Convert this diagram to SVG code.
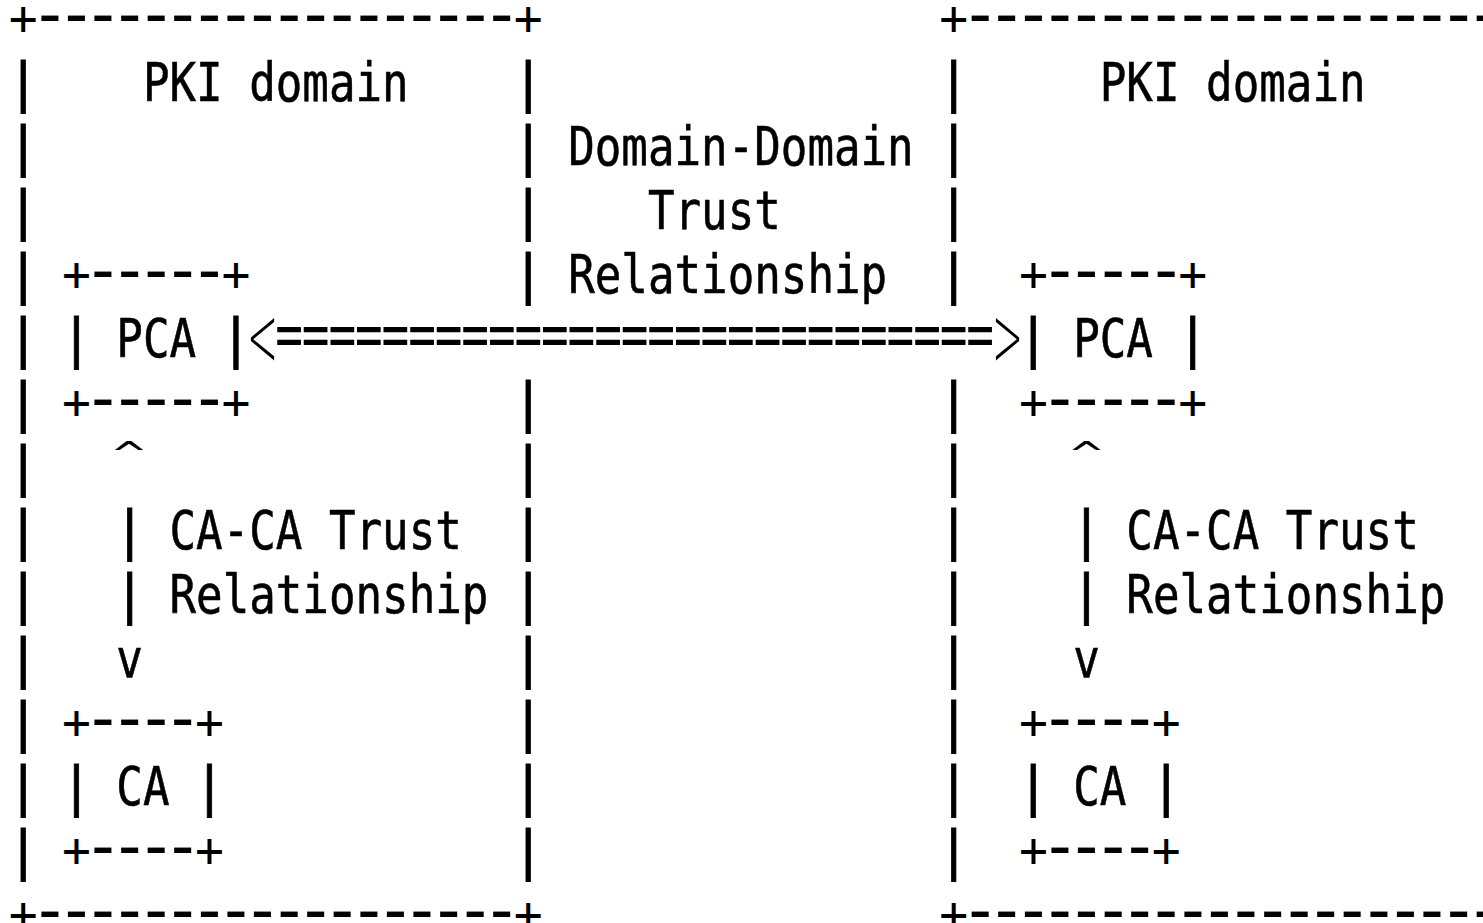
<svg xmlns="http://www.w3.org/2000/svg" width="1483" height="923" viewBox="0 0 1483 923">
<style>
text { font-family: "DejaVu Sans Mono", "Liberation Mono", monospace; font-size: 53px; fill: #000; }
.t { stroke: #000; stroke-width: 0.6px; }
.c { text-anchor: middle; stroke: #000; stroke-width: 0.8px; }
.p { text-anchor: middle; font-size: 48px; }
.d { text-anchor: middle; font-size: 67px; }
.e { text-anchor: middle; font-size: 46px; }
.k { text-anchor: middle; }
.ang { font-family: "DejaVu Sans", "Liberation Sans", sans-serif; font-weight: 200; text-anchor: middle; }
</style>
<rect x="0" y="0" width="1483" height="923" fill="#fff"/>
<g id="left-domain">
<text class="p" x="23.29 528.31" y="34.9">++</text>
<text class="d" x="49.87 76.45 103.03 129.61 156.19 182.77 209.35 235.93 262.51 289.09 315.67 342.25 368.83 395.41 421.99 448.57 475.15 501.73" y="36.5">------------------</text>
<text class="c" x="23.29 23.29 23.29 23.29 23.29 23.29 23.29 23.29 23.29 23.29 23.29 23.29 23.29" y="101 165 229 293 357 421 485 549 613 677 741 805 869">|||||||||||||</text>
<text class="c" x="528.31 528.31 528.31 528.31 528.31 528.31 528.31 528.31 528.31 528.31 528.31 528.31" y="101 165 229 293 421 485 549 613 677 741 805 869">||||||||||||</text>
<text class="t" x="142.9" y="101" textLength="265.8" lengthAdjust="spacingAndGlyphs">PKI domain</text>
<text class="p" x="23.29 528.31" y="930.9">++</text>
<text class="d" x="49.87 76.45 103.03 129.61 156.19 182.77 209.35 235.93 262.51 289.09 315.67 342.25 368.83 395.41 421.99 448.57 475.15 501.73" y="932.5">------------------</text>
</g>
<g id="right-domain">
<text class="p" x="953.59" y="34.9">+</text>
<text class="d" x="980.17 1006.75 1033.33 1059.91 1086.49 1113.07 1139.65 1166.23 1192.81 1219.39 1245.97 1272.55 1299.13 1325.71 1352.29 1378.87 1405.45 1432.03 1458.61 1485.19" y="36.5">--------------------</text>
<text class="c" x="953.59 953.59 953.59 953.59 953.59 953.59 953.59 953.59 953.59 953.59 953.59 953.59" y="101 165 229 293 421 485 549 613 677 741 805 869">||||||||||||</text>
<text class="t" x="1099.78" y="101" textLength="265.8" lengthAdjust="spacingAndGlyphs">PKI domain</text>
<text class="p" x="953.59" y="930.9">+</text>
<text class="d" x="980.17 1006.75 1033.33 1059.91 1086.49 1113.07 1139.65 1166.23 1192.81 1219.39 1245.97 1272.55 1299.13 1325.71 1352.29 1378.87 1405.45 1432.03 1458.61 1485.19" y="932.5">--------------------</text>
</g>
<g id="left-pca">
<text class="p" x="76.45 235.93" y="290.9">++</text>
<text class="d" x="103.03 129.61 156.19 182.77 209.35" y="292.5">-----</text>
<text class="c" x="76.45 235.93" y="357">||</text>
<text class="t" x="116.32" y="357" textLength="79.74" lengthAdjust="spacingAndGlyphs">PCA</text>
<text class="p" x="76.45 235.93" y="418.9">++</text>
<text class="d" x="103.03 129.61 156.19 182.77 209.35" y="420.5">-----</text>
</g>
<g id="right-pca">
<text class="p" x="1033.33 1192.81" y="290.9">++</text>
<text class="d" x="1059.91 1086.49 1113.07 1139.65 1166.23" y="292.5">-----</text>
<text class="c" x="1033.33 1192.81" y="357">||</text>
<text class="t" x="1073.2" y="357" textLength="79.74" lengthAdjust="spacingAndGlyphs">PCA</text>
<text class="p" x="1033.33 1192.81" y="418.9">++</text>
<text class="d" x="1059.91 1086.49 1113.07 1139.65 1166.23" y="420.5">-----</text>
</g>
<g id="left-ca">
<text class="p" x="76.45 209.35" y="738.9">++</text>
<text class="d" x="103.03 129.61 156.19 182.77" y="740.5">----</text>
<text class="c" x="76.45 209.35" y="805">||</text>
<text class="t" x="116.32" y="805" textLength="53.16" lengthAdjust="spacingAndGlyphs">CA</text>
<text class="p" x="76.45 209.35" y="866.9">++</text>
<text class="d" x="103.03 129.61 156.19 182.77" y="868.5">----</text>
</g>
<g id="right-ca">
<text class="p" x="1033.33 1166.23" y="738.9">++</text>
<text class="d" x="1059.91 1086.49 1113.07 1139.65" y="740.5">----</text>
<text class="c" x="1033.33 1166.23" y="805">||</text>
<text class="t" x="1073.2" y="805" textLength="53.16" lengthAdjust="spacingAndGlyphs">CA</text>
<text class="p" x="1033.33 1166.23" y="866.9">++</text>
<text class="d" x="1059.91 1086.49 1113.07 1139.65" y="868.5">----</text>
</g>
<g id="connectors">
<text class="ang" transform="translate(262.51 337) scale(0.7 1.6)" x="0" y="18">&lt;</text>
<text class="e" transform="translate(0 337.5) scale(1 1.35)" x="289.09 315.67 342.25 368.83 395.41 421.99 448.57 475.15 501.73 528.31 554.89 581.47 608.05 634.63 661.21 687.79 714.37 740.95 767.53 794.11 820.69 847.27 873.85 900.43 927.01 953.59 980.17" y="13.8">===========================</text>
<text class="ang" transform="translate(1007.5 337) scale(0.7 1.6)" x="0" y="18">&gt;</text>
<text class="t" x="568.18" y="165" textLength="345.54" lengthAdjust="spacingAndGlyphs">Domain-Domain</text>
<text class="t" x="647.92" y="229" textLength="132.9" lengthAdjust="spacingAndGlyphs">Trust</text>
<text class="t" x="568.18" y="293" textLength="318.96" lengthAdjust="spacingAndGlyphs">Relationship</text>
<text class="k" transform="translate(129 447) scale(1 0.6)" x="0" y="30">^</text>
<text class="c" x="129.61 129.61" y="549 613">||</text>
<text class="t" x="169.48" y="549" textLength="292.38" lengthAdjust="spacingAndGlyphs">CA-CA Trust</text>
<text class="t" x="169.48" y="613" textLength="318.96" lengthAdjust="spacingAndGlyphs">Relationship</text>
<text class="t" x="116.32" y="677" textLength="26.58" lengthAdjust="spacingAndGlyphs">v</text>
<text class="k" transform="translate(1086.49 447) scale(1 0.6)" x="0" y="30">^</text>
<text class="c" x="1086.49 1086.49" y="549 613">||</text>
<text class="t" x="1126.36" y="549" textLength="292.38" lengthAdjust="spacingAndGlyphs">CA-CA Trust</text>
<text class="t" x="1126.36" y="613" textLength="318.96" lengthAdjust="spacingAndGlyphs">Relationship</text>
<text class="t" x="1073.2" y="677" textLength="26.58" lengthAdjust="spacingAndGlyphs">v</text>
</g>
</svg>
